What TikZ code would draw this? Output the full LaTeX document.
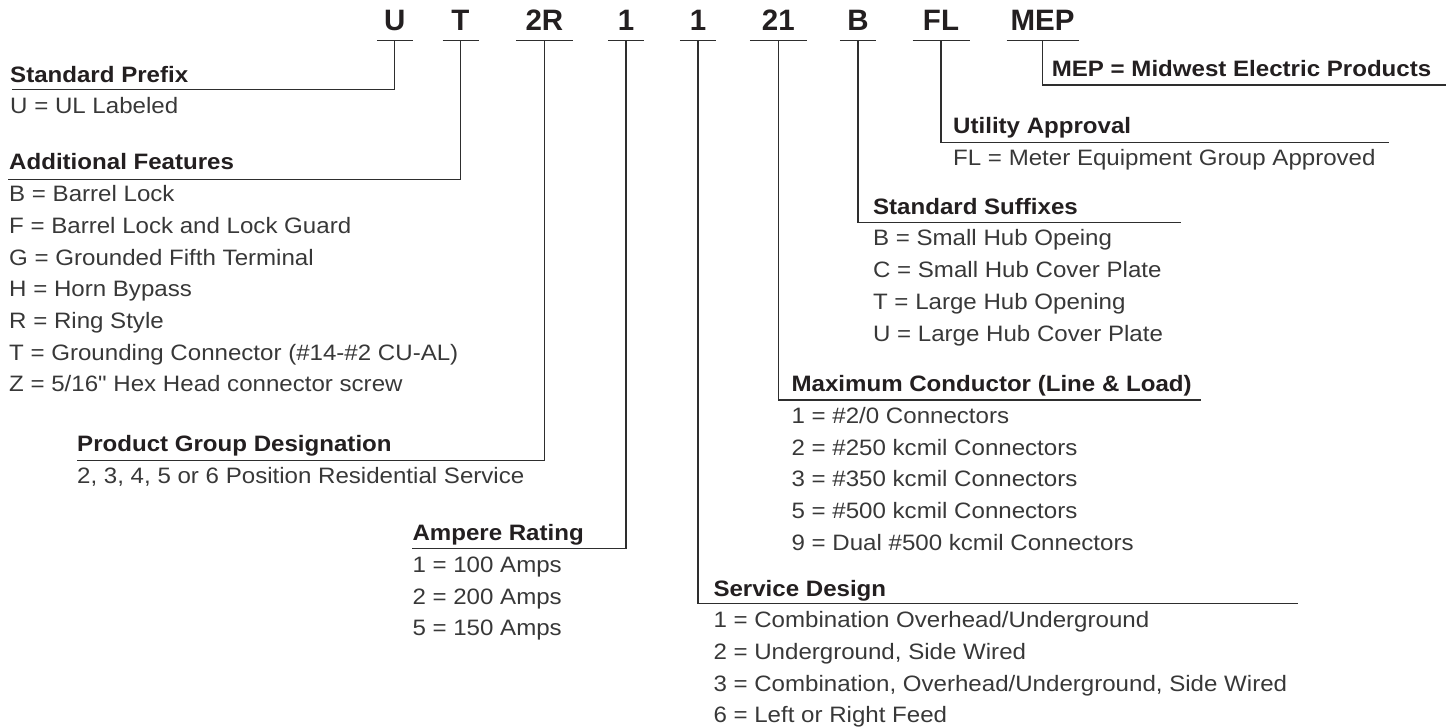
\documentclass[tikz,border=0pt]{standalone}
\usepackage{fontspec}
\defaultfontfeatures{}
\newfontfamily\labfont[FakeStretch=1.08]{Liberation Sans}
\newfontfamily\codefam{Liberation Sans}
\definecolor{ink}{HTML}{231F20}
\definecolor{itemc}{HTML}{383838}
\definecolor{rulec}{HTML}{2E2E2E}
\tikzset{
  codebox/.style={font=\codefam\bfseries\fontsize{29.5}{30}\selectfont, text=ink,
    inner sep=0pt, anchor=base, text depth=9.3pt, minimum width=#1},
  grp/.style={font=\labfont\fontsize{22.3}{31.7}\selectfont, text=itemc,
    inner sep=0pt, anchor=base west},
  rulel/.style={draw=rulec, line width=1.2pt},
}
\newcommand\grptext[2]{\begin{tabular}[t]{@{}l@{}}\textcolor{ink}{\textbf{#1}}\\#2\end{tabular}}
\begin{document}
\begin{tikzpicture}[x=1pt,y=-1pt]
\useasboundingbox (0,0) rectangle (1455,727);
% code letters
\node[codebox=35.7] (cU)   at (394.85,30.7) {U};
\node[codebox=35.6] (cT)   at (460.5,30.7)  {T};
\node[codebox=56.7] (cR)   at (544.35,30.7) {2R};
\node[codebox=36]   (cA)   at (626,30.7)    {1};
\node[codebox=36]   (cS)   at (698,30.7)    {1};
\node[codebox=56.7] (cM)   at (778.35,30.7) {21};
\node[codebox=36]   (cB)   at (858,30.7)    {B};
\node[codebox=56.6] (cF)   at (941,30.7)    {FL};
\node[codebox=71.6] (cP)   at (1042.5,30.7) {MEP};
\foreach \n in {cU,cT,cR,cA,cS,cM,cB,cF,cP}
  \draw[rulel] (\n.south west) -- (\n.south east);
% groups
\node[grp] (gU) at (10,82.3) {\grptext{Standard Prefix}{U = UL Labeled}};
\node[grp] (gT) at (9,170) {\grptext{Additional Features}{B = Barrel Lock\\
  F = Barrel Lock and Lock Guard\\ G = Grounded Fifth Terminal\\ H = Horn Bypass\\
  R = Ring Style\\ T = Grounding Connector (\#14-\#2 CU-AL)\\ Z = 5/16" Hex Head connector screw}};
\node[grp] (gR) at (77,451.7) {\grptext{Product Group Designation}{2, 3, 4, 5 or 6 Position Residential Service}};
\node[grp] (gA) at (412.3,540.7) {\grptext{Ampere Rating}{1 = 100 Amps\\ 2 = 200 Amps\\ 5 = 150 Amps}};
\node[grp] (gS) at (713.3,596) {\grptext{Service Design}{1 = Combination Overhead/Underground\\
  2 = Underground, Side Wired\\ 3 = Combination, Overhead/Underground, Side Wired\\ 6 = Left or Right Feed}};
\node[grp] (gM) at (791.4,391.7) {\grptext{Maximum Conductor (Line \& Load)}{1 = \#2/0 Connectors\\
  2 = \#250 kcmil Connectors\\ 3 = \#350 kcmil Connectors\\ 5 = \#500 kcmil Connectors\\ 9 = Dual \#500 kcmil Connectors}};
\node[grp] (gB) at (872.9,214.3) {\grptext{Standard Suffixes}{B = Small Hub Opeing\\
  C = Small Hub Cover Plate\\ T = Large Hub Opening\\ U = Large Hub Cover Plate}};
\node[grp] (gF) at (953,133.5) {\grptext{Utility Approval}{FL = Meter Equipment Group Approved}};
\node[grp, text=ink] (gP) at (1051.6,77) {\textbf{MEP = Midwest Electric Products}};
% connector ends
\coordinate (eU) at (12,89.3);
\coordinate (eT) at (7.5,179.3);
\coordinate (eR) at (77,460.7);
\coordinate (eA) at (412,548.7);
\coordinate (eS) at (1297.7,603.7);
\coordinate (eM) at (1201.4,400);
\coordinate (eB) at (1180.5,222.5);
\coordinate (eF) at (1389,142.5);
\coordinate (eP) at (1445.5,85);
\foreach \c/\e in {cU/eU,cT/eT,cR/eR,cA/eA,cS/eS,cM/eM,cB/eB,cF/eF,cP/eP}
  \draw[rulel] (\c.south) |- (\e);
\end{tikzpicture}
\end{document}
